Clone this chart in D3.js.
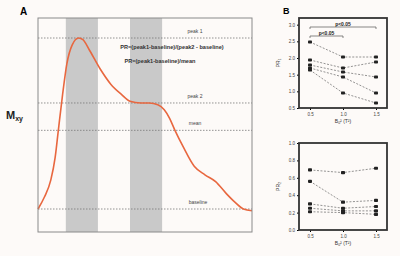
<!DOCTYPE html>
<head>
    <meta charset="utf-8">
    <script src="https://d3js.org/d3.v7.min.js"></script>
    <style>
        body { margin: 0; background: #fdfaf8; }
        svg { font-family: "Liberation Sans", Arial, sans-serif; }
    </style>
</head>
<body>
    <svg width="400" height="256"></svg>
    <script>
        // panel A: signal trace (time in %, normalised amplitude)
        var traceT = [0, 3, 6, 8, 9.5, 11.5, 13.5, 16, 19, 21, 24, 29, 34, 39, 43, 48, 52, 56, 59, 61.5, 64, 68, 73, 78, 83, 88, 92, 96, 100];
        var traceV = [0, 0.07, 0.17, 0.3, 0.46, 0.67, 0.85, 0.96, 1.0, 0.99, 0.93, 0.82, 0.73, 0.67, 0.63, 0.62, 0.62, 0.61, 0.58, 0.53, 0.46, 0.36, 0.25, 0.2, 0.16, 0.09, 0.04, 0.0, -0.01];
        var bands = [[13, 28], [43, 58]];
        var refNames = ["peak 1", "peak 2", "mean", "baseline"];
        var refValues = [1.0, 0.62, 0.46, 0];

        // panel B: three conditions, five subjects
        var xLabels = ["0.5", "1.0", "1.5"];
        var topSeries = [
            [2.48, 2.03, 2.03],
            [1.94, 1.70, 1.88],
            [1.79, 1.58, 1.43],
            [1.70, 1.43, 0.95],
            [1.64, 0.95, 0.65]
        ];
        var topTicks = [0.5, 1, 1.5, 2, 2.5, 3];
        var botSeries = [
            [0.69, 0.66, 0.71],
            [0.56, 0.32, 0.34],
            [0.30, 0.25, 0.27],
            [0.25, 0.22, 0.22],
            [0.21, 0.20, 0.18]
        ];
        var botTicks = [0, 0.2, 0.4, 0.6, 0.8, 1];

        var svg = d3.select("svg");

        // ---- panel A ----
        var ax = d3.scaleLinear().domain([0, 100]).range([38, 252]);
        var ay = d3.scaleLinear().domain([0, 1]).range([209, 38]);

        svg.append("text").attr("x", 20).attr("y", 15)
            .attr("font-size", 10).attr("font-weight", "bold").text("A");

        var gA = svg.append("g");
        gA.selectAll("rect.band").data(bands).enter().append("rect")
            .attr("x", d => ax(d[0])).attr("width", d => ax(d[1]) - ax(d[0]))
            .attr("y", 18).attr("height", 214)
            .attr("fill", "#c9c9c9");

        gA.selectAll("line.ref").data(refValues).enter().append("line")
            .attr("x1", ax(0)).attr("x2", ax(100))
            .attr("y1", d => ay(d)).attr("y2", d => ay(d))
            .attr("stroke", "#777").attr("stroke-width", 0.8)
            .attr("stroke-dasharray", "1.5,1.5");

        gA.selectAll("text.ref").data(refNames).enter().append("text")
            .attr("x", (d, i) => i == 3 ? 198 : 195)
            .attr("y", (d, i) => ay(refValues[i]) - 5)
            .attr("text-anchor", "middle")
            .attr("font-size", 5).attr("fill", "#444")
            .text(d => d);

        gA.append("text").attr("x", 172).attr("y", 49)
            .attr("text-anchor", "middle").attr("font-size", 5.6).attr("font-weight", "bold")
            .attr("fill", "#333")
            .text("PR=(peak1-baseline)/(peak2 - baseline)");
        gA.append("text").attr("x", 160).attr("y", 63)
            .attr("text-anchor", "middle").attr("font-size", 5.6).attr("font-weight", "bold")
            .attr("fill", "#333")
            .text("PR=(peak1-baseline)/mean");

        var line = d3.line().x((d, i) => ax(traceT[i])).y(d => ay(d)).curve(d3.curveMonotoneX);
        gA.append("path").datum(traceV)
            .attr("d", line)
            .attr("fill", "none").attr("stroke", "#e8673f").attr("stroke-width", 1.6);

        gA.append("rect").attr("x", 38).attr("y", 18).attr("width", 214).attr("height", 214)
            .attr("fill", "none").attr("stroke", "#8a8a8a").attr("stroke-width", 1);

        var mxy = svg.append("text").attr("x", 6).attr("y", 119)
            .attr("font-size", 11).attr("font-weight", "bold").attr("fill", "#222");
        mxy.append("tspan").text("M");
        mxy.append("tspan").attr("font-size", 7).attr("dy", 2).text("xy");

        // ---- panel B ----
        svg.append("text").attr("x", 283).attr("y", 14)
            .attr("font-size", 9).attr("font-weight", "bold").text("B");

        var bx = d3.scalePoint().domain(xLabels).range([310, 376]);

        function drawPanel(series, ticks, yDomain, top, bottom, yTitle) {
            var y = d3.scaleLinear().domain(yDomain).range([bottom, top]);
            var g = svg.append("g");

            var yAxis = d3.axisLeft(y).tickValues(ticks).tickSize(2).tickPadding(2);
            g.append("g").attr("transform", "translate(299,0)").call(yAxis)
                .call(s => s.select(".domain").remove())
                .call(s => s.selectAll("text").attr("font-size", 4.5).attr("fill", "#444"));

            var xAxis = d3.axisBottom(bx).tickSize(2).tickPadding(3);
            g.append("g").attr("transform", "translate(0," + bottom + ")").call(xAxis)
                .call(s => s.select(".domain").remove())
                .call(s => s.selectAll("text").attr("font-size", 4.5).attr("fill", "#444"));

            var pl = d3.line().x((d, i) => bx(xLabels[i])).y(d => y(d));
            g.selectAll("path.s").data(series).enter().append("path")
                .attr("d", pl).attr("fill", "none")
                .attr("stroke", "#666").attr("stroke-width", 0.7)
                .attr("stroke-dasharray", "2,1.5");

            series.forEach(function (s) {
                g.selectAll(null).data(s).enter().append("rect")
                    .attr("x", (d, i) => bx(xLabels[i]) - 2).attr("y", d => y(d) - 1.6)
                    .attr("width", 4).attr("height", 3.2).attr("rx", 0.8)
                    .attr("fill", "#222");
            });

            g.append("rect").attr("x", 299).attr("y", top).attr("width", 88).attr("height", bottom - top)
                .attr("fill", "none").attr("stroke", "#333").attr("stroke-width", 1.8);

            g.append("text").attr("transform", "translate(280," + ((top + bottom) / 2) + ") rotate(-90)")
                .attr("text-anchor", "middle").attr("font-size", 5).attr("fill", "#333").text(yTitle);

            var xt = g.append("text").attr("x", 343).attr("y", bottom + 15)
                .attr("text-anchor", "middle").attr("font-size", 5).attr("fill", "#333");
            xt.append("tspan").text("B");
            xt.append("tspan").attr("font-size", 3.5).attr("dy", 1).text("0");
            xt.append("tspan").attr("dy", -1).text("² (T²)");
            return y;
        }

        drawPanel(topSeries, topTicks, [0.5, 3.2], 18, 108, "PR₁");
        drawPanel(botSeries, botTicks, [0, 1], 143, 230, "PR₂");

        // significance brackets
        var brackets = [[0, 2, 27, "p<0.05"], [0, 1, 36, "p<0.05"]];
        brackets.forEach(function (b) {
            var x1 = bx(xLabels[b[0]]), x2 = bx(xLabels[b[1]]);
            svg.append("path")
                .attr("d", "M" + x1 + "," + (b[2] + 2) + "V" + b[2] + "H" + x2 + "V" + (b[2] + 2))
                .attr("fill", "none").attr("stroke", "#555").attr("stroke-width", 0.7);
            svg.append("text").attr("x", (x1 + x2) / 2).attr("y", b[2] - 1.5)
                .attr("text-anchor", "middle").attr("font-size", 5).attr("font-weight", "bold")
                .attr("fill", "#222").text(b[3]);
        });
    </script>
</body>
